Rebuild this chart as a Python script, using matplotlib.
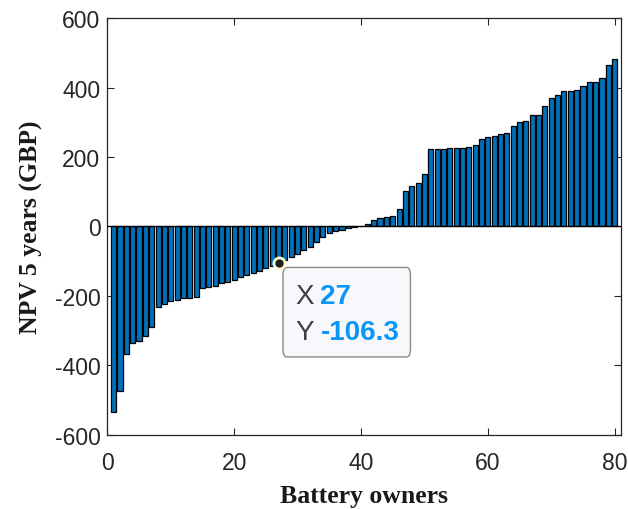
import numpy as np
import matplotlib.pyplot as plt
from matplotlib.patches import FancyBboxPatch

plt.rcParams['axes.unicode_minus'] = False
plt.rcParams['font.family'] = ['Liberation Sans', 'DejaVu Sans']

# NPV after 5 years for each battery owner, sorted
npv = [-534, -473, -368, -337, -329, -317, -291, -233, -224, -214,
       -212, -206, -205, -202, -177, -174, -171, -164, -160, -153,
       -147, -141, -135, -128, -121, -114, -106.3, -97, -88, -79,
       -69, -58, -46, -30, -19, -14, -9, -5, -1.5, 1,
       7, 18, 24, 26, 30, 50, 101, 117, 125, 150,
       223, 223, 224, 225, 226, 227, 228, 235, 252, 259,
       262, 266, 270, 290, 301, 305, 321, 321, 348, 369,
       379, 389, 391, 394, 404, 415, 417, 429, 466, 484]
owners = np.arange(1, len(npv) + 1)
tip_x = 27
tip_y = npv[tip_x - 1]

axcol = '#262626'
fig = plt.figure(figsize=(6.28, 5.10), dpi=100)
ax = fig.add_axes([0.1709, 0.1457, 0.818, 0.8165])

ax.bar(owners, npv, width=0.8, color='#0072BD', edgecolor='black', linewidth=0.9, zorder=2)
ax.axhline(0, color='black', linewidth=0.9, zorder=3)

ax.set_xlim(0, 81)
ax.set_ylim(-600, 600)
ax.set_xticks([0, 20, 40, 60, 80])
ax.set_yticks(np.arange(-600, 601, 200))
ax.tick_params(direction='in', top=True, right=True, length=5, width=0.8,
               labelsize=16.5, colors=axcol)
ax.tick_params(axis='x', pad=12)
ax.tick_params(axis='y', pad=5)
for s in ax.spines.values():
    s.set_color(axcol)
    s.set_linewidth(0.9)

ax.set_xlabel('Battery owners', family='Liberation Serif', fontweight='bold',
              fontsize=18.5, color='#1a1a1a', labelpad=7)
ax.set_ylabel('NPV 5 years (GBP)', family='Liberation Serif', fontweight='bold',
              fontsize=18.5, color='#1a1a1a', labelpad=8)

# data tip
box = FancyBboxPatch((27.7, -376), 20.1, 258, boxstyle='round,pad=0,rounding_size=0.6',
                     mutation_aspect=40, facecolor='#f8f8fc', edgecolor='#8a8a8a',
                     linewidth=1.0, zorder=5)
ax.add_patch(box)
ax.plot(tip_x, tip_y, 'o', markersize=8, color='#1e1e1e', markeredgecolor='#fffbd0',
        markeredgewidth=2, zorder=6)
ax.text(29.6, -200, 'X', fontsize=20, color='#404040', va='center', zorder=7)
ax.text(33.6, -200, str(tip_x), fontsize=20, color='#0a96f5', fontweight='bold',
        va='center', zorder=7)
ax.text(29.6, -305, 'Y', fontsize=20, color='#404040', va='center', zorder=7)
ax.text(33.6, -305, f'{tip_y:.1f}', fontsize=20, color='#0a96f5', fontweight='bold',
        va='center', zorder=7)

fig.savefig('out.png', dpi=100)
